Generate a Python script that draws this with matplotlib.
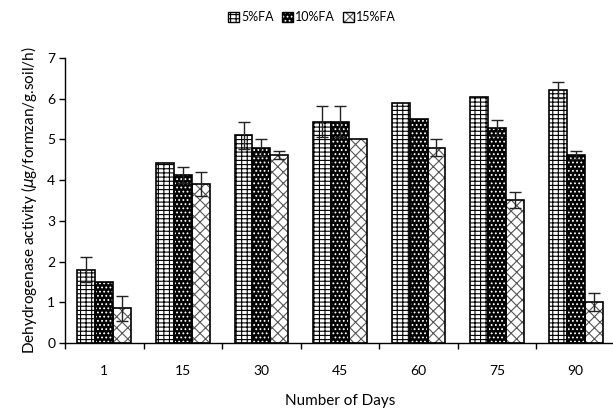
import matplotlib
matplotlib.use("Agg")
import matplotlib.pyplot as plt
import numpy as np
from matplotlib.patches import Patch

plt.rcParams['font.family'] = ['Lato', 'DejaVu Sans']
plt.rcParams['hatch.linewidth'] = 0.8

days = ["1", "15", "30", "45", "60", "75", "90"]
series_names = ["5%FA", "10%FA", "15%FA"]
fa5 = [1.8, 4.43, 5.1, 5.44, 5.9, 6.03, 6.22]
fa10 = [1.5, 4.13, 4.8, 5.44, 5.5, 5.28, 4.62]
fa15 = [0.85, 3.9, 4.62, 5.02, 4.8, 3.52, 1.0]
err5 = [0.31, 0.0, 0.33, 0.39, 0.0, 0.0, 0.2]
err10 = [0.0, 0.2, 0.21, 0.39, 0.0, 0.2, 0.09]
err15 = [0.3, 0.29, 0.09, 0.0, 0.21, 0.2, 0.22]

fig = plt.figure(figsize=(6.13, 4.12), dpi=100)
ax = fig.add_axes([65/613, 69/412, 550/613, 285/412])

x = np.arange(len(days))
w = 0.228
styles = [
    dict(face='white', hatch='----|||', hcolor='black'),
    dict(face='black', hatch='....', hcolor='white'),
    dict(face='white', hatch='xxx', hcolor='#555555'),
]
data = [fa5, fa10, fa15]
errs = [err5, err10, err15]
handles = []
for i, (vals, e, st) in enumerate(zip(data, errs, styles)):
    pos = x + (i - 1) * w
    ax.bar(pos, vals, w, color=st['face'], edgecolor=st['hcolor'],
           hatch=st['hatch'], linewidth=0, zorder=2)
    ax.bar(pos, vals, w, fill=False, edgecolor='black', linewidth=1.2, zorder=3)
    ev = np.array(e)
    mask = ev > 0
    ax.errorbar(pos[mask], np.array(vals)[mask], yerr=ev[mask], fmt='none',
                ecolor='#222222', elinewidth=1, capsize=4, capthick=1, zorder=4)
    h1 = Patch(facecolor=st['face'], edgecolor=st['hcolor'], hatch=st['hatch'], linewidth=0)
    h2 = Patch(fill=False, edgecolor='black', linewidth=1)
    handles.append((h1, h2))

ax.set_xlim(-0.5, len(days) - 0.5)
ax.set_ylim(0, 7)
ax.set_yticks(range(0, 8))
ax.set_xticks(x)
ax.set_xticklabels(days, fontsize=10)
ax.set_xticks(np.arange(-0.5, len(days), 1.0), minor=True)
ax.tick_params(axis='x', which='major', length=0, pad=16)
ax.tick_params(axis='x', which='minor', length=4, direction='out', width=1)
ax.tick_params(axis='y', length=4, direction='out', width=1, labelsize=10, pad=3)
for s in ['top', 'right']:
    ax.spines[s].set_visible(False)
ax.spines['left'].set_linewidth(1)
ax.spines['bottom'].set_linewidth(1)

ax.set_ylabel("Dehydrogenase activity ($\\mu$g/formzan/g.soil/h)", fontsize=11, labelpad=6)
ax.set_xlabel("Number of Days", fontsize=11, labelpad=12)

fig.legend(handles, series_names, loc='center', bbox_to_anchor=(312/613, 1 - 17/412),
           ncol=3, frameon=False, fontsize=9, handlelength=0.9, handleheight=0.9,
           handletextpad=0.2, columnspacing=0.6, borderpad=0)

fig.savefig("out.png", dpi=100)
